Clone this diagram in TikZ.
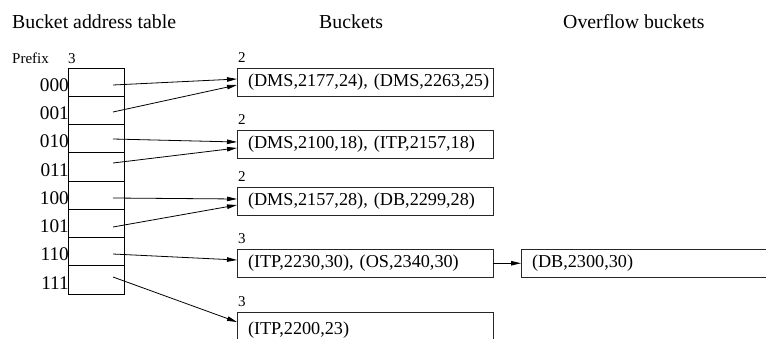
\documentclass[tikz,border=0pt]{standalone}
\usepackage{fontspec}
\setmainfont{Liberation Serif}
\usetikzlibrary{arrows.meta,calc}
\begin{document}
\begin{tikzpicture}[x=1pt,y=-1pt,
  head/.style={anchor=base west,inner sep=0pt,font=\fontsize{19.8}{22}\selectfont},
  small/.style={anchor=base west,inner sep=0pt,font=\fontsize{15}{17}\selectfont},
  rowlabel/.style={anchor=base east,inner sep=0pt,font=\fontsize{19.3}{21}\selectfont},
  cell/.style={draw,line width=0.9pt,minimum width=56pt,minimum height=28.25pt,
    inner sep=0pt,outer sep=0pt,anchor=north west},
  bucketbox/.style={draw=black!85,line width=1pt,minimum height=28.5pt,inner xsep=11pt,
    inner ysep=0pt,outer sep=0pt,anchor=north west,align=left,
    font=\fontsize{18.2}{20}\selectfont},
  ptr/.style={line width=0.8pt,-{Triangle[length=10pt,width=4.5pt]}}]

\useasboundingbox (0,0) rectangle (766,338);
\clip (0,0) rectangle (766,338);

% column headings
\node[head] (hTable) at (12,28) {Bucket address table};
\node[head] (hBuckets) at (319,28) {Buckets};
\node[head] (hOverflow) at (563,28) {Overflow buckets};

% bucket address table
\node[small] (prefix) at (12,63) {Prefix};
\node[small] (gdepth) at (68,63) {3};
\foreach \i/\lab in {0/000,1/001,2/010,3/011,4/100,5/101,6/110,7/111}{
  \node[cell] (c\i) at (68,{68+28.25*\i}) {};
  \node[rowlabel] (l\i) at (69,{68+28.25*(\i+1)-5}) {\lab};
}

% pointer origins inside the table cells
\coordinate (s0) at (113,85);
\coordinate (s1) at (113,112);
\coordinate (s2) at (113,139);
\coordinate (s3) at (113,163);
\coordinate (s4) at (113,198);
\coordinate (s5) at (113,227);
\coordinate (s6) at (113,254);
\coordinate (s7) at (113,277);

% buckets with their local depths
\node[bucketbox,text width=234pt] (b1) at (237,68) {\mbox{(DMS,2177,24), (DMS,2263,25)}};
\node[bucketbox,text width=234pt] (b2) at (237,130) {\mbox{(DMS,2100,18), (ITP,2157,18)}};
\node[bucketbox,text width=234pt] (b3) at (237,187) {\mbox{(DMS,2157,28), (DB,2299,28)}};
\node[bucketbox,text width=234pt] (b4) at (237,249) {\mbox{(ITP,2230,30), (OS,2340,30)}};
\node[bucketbox,text width=234pt,minimum height=40pt] (b5) at (237,312)
  {\raisebox{8pt}{(ITP,2200,23)}};
\node[bucketbox,text width=258pt] (ov) at (521,249) {(DB,2300,30)};

\node[small] (d1) at (238,62) {2};
\node[small] (d2) at (238,124) {2};
\node[small] (d3) at (238,181) {2};
\node[small] (d4) at (238,243) {3};
\node[small] (d5) at (238,306) {3};

% pointers from the table to the buckets
\draw[ptr] (s0) -- ($(b1.north west)+(0,11)$);
\draw[ptr] (s1) -- ($(b1.north west)+(0,17)$);
\draw[ptr] (s2) -- ($(b2.north west)+(0,12)$);
\draw[ptr] (s3) -- ($(b2.north west)+(0,18)$);
\draw[ptr] (s4) -- ($(b3.north west)+(0,12)$);
\draw[ptr] (s5) -- ($(b3.north west)+(0,18)$);
\draw[ptr] (s6) -- ($(b4.north west)+(0,11)$);
\draw[ptr] (s7) -- ($(b5.north west)+(0,10)$);

% overflow chain
\draw[ptr] (b4.east) -- (ov.west);
\end{tikzpicture}
\end{document}
